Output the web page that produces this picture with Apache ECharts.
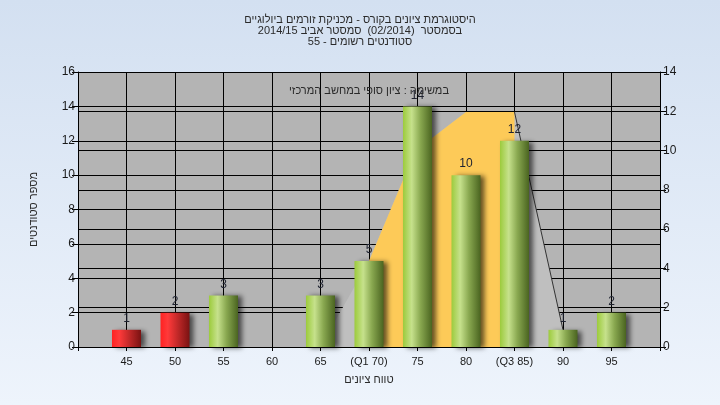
<!DOCTYPE html>
<html><head><meta charset="utf-8">
<script src="https://cdn.jsdelivr.net/npm/echarts@6/dist/echarts.min.js"></script>
<style>html,body{margin:0;padding:0;}#c{width:720px;height:405px;}</style>
</head><body><div id="c"></div>
<script>
const titleLines = ['היסטוגרמת ציונים בקורס - מכניקת זורמים ביולוגיים', 'בסמסטר  (02/2014)  סמסטר אביב 2014/15', 'סטודנטים רשומים - 55'];
const noteText = 'במשימה : ציון סופי במחשב המרכזי';
const xAxisName = 'טווח ציונים';
const yAxisName = 'מספר סטודנטים';
const gradeBins = [45, 50, 55, 60, 65, 70, 75, 80, 85, 90, 95];
const binLabels = ['45', '50', '55', '60', '65', '(Q1 70)', '75', '80', '(Q3 85)', '90', '95'];
const studentCounts = [1, 2, 3, 0, 3, 5, 14, 10, 12, 1, 2];
const passGrade = 55;
// spread outline (left-axis units)
const spreadX = [65, 70, 73.5, 76.6, 80, 85, 90, 90];
const spreadY = [0, 5, 9.7, 12.2, 13.67, 13.67, 1, 0];
const iqrX = [70, 73.5, 76.6, 80, 85];
const iqrY = [5, 9.7, 12.2, 13.67, 13.67];
const tailX = [85, 90];
const tailY = [13.67, 1];

const FONT = '"Liberation Sans", "DejaVu Sans", sans-serif';
const zip = (a, b) => a.map((v, i) => [v, b[i]]);

const greenGrad = {type: 'linear', x: 0, y: 0, x2: 1, y2: 0, colorStops: [
  {offset: 0, color: '#9ccb3c'}, {offset: 0.3, color: '#c6e18c'}, {offset: 0.6, color: '#89a850'}, {offset: 1, color: '#4a6420'}]};
const redGrad = {type: 'linear', x: 0, y: 0, x2: 1, y2: 0, colorStops: [
  {offset: 0, color: '#ff2222'}, {offset: 0.25, color: '#ff3a3a'}, {offset: 0.6, color: '#c02828'}, {offset: 1, color: '#7a1212'}]};

const chart = echarts.init(document.getElementById('c'));
chart.setOption({
  animation: false,
  backgroundColor: {type: 'linear', x: 0, y: 0, x2: 0, y2: 1, colorStops: [
    {offset: 0, color: '#d3e0f1'}, {offset: 1, color: '#eef4fc'}]},
  textStyle: {fontFamily: FONT},
  title: [
    {text: titleLines.join('\n'), left: 'center', top: 9,
     textStyle: {fontSize: 11, fontWeight: 'normal', color: '#2a2a2a', lineHeight: 11, fontFamily: FONT}},
    {text: noteText, left: 364, top: 80, textAlign: 'center',
     textStyle: {fontSize: 11, fontWeight: 'normal', color: '#2a2a2a', fontFamily: FONT}}
  ],
  grid: {left: 78, right: 60, top: 72, bottom: 58, show: true, backgroundColor: '#b4b4b4', borderWidth: 0},
  xAxis: {
    type: 'value', min: 40, max: 100, interval: 5,
    name: xAxisName, nameLocation: 'middle', nameGap: 27,
    nameTextStyle: {fontSize: 11, color: '#2a2a2a', fontFamily: FONT},
    axisLine: {lineStyle: {color: '#000', width: 1}},
    axisTick: {length: 4, lineStyle: {color: '#000'}},
    splitLine: {show: true, lineStyle: {color: '#000', width: 1}},
    axisLabel: {margin: 9, fontSize: 11, color: '#1a1a1a', fontFamily: FONT,
      formatter: v => { const i = gradeBins.indexOf(v); return i < 0 ? '' : binLabels[i]; }}
  },
  yAxis: [
    {type: 'value', min: 0, max: 16, interval: 2, position: 'left',
     name: yAxisName, nameLocation: 'middle', nameGap: 39,
     nameTextStyle: {fontSize: 11, color: '#2a2a2a', fontFamily: FONT},
     axisLine: {show: true, lineStyle: {color: '#000'}},
     axisTick: {show: true, length: 6, lineStyle: {color: '#000'}},
     splitLine: {show: true, lineStyle: {color: '#000', width: 1}},
     axisLabel: {margin: 3, fontSize: 12, color: '#1a1a1a', fontFamily: FONT}},
    {type: 'value', min: 0, max: 14, interval: 2, position: 'right',
     axisLine: {show: true, lineStyle: {color: '#000'}},
     axisTick: {show: true, length: 6, lineStyle: {color: '#000'}},
     splitLine: {show: true, lineStyle: {color: '#000', width: 1}},
     axisLabel: {margin: 3, fontSize: 12, color: '#1a1a1a', fontFamily: FONT}}
  ],
  series: [
    {type: 'line', z: 1, data: zip(spreadX, spreadY), symbol: 'none', silent: true,
     lineStyle: {width: 0, opacity: 0}, areaStyle: {color: '#bfbfbf', opacity: 1}},
    {type: 'line', z: 1, data: zip(iqrX, iqrY), symbol: 'none', silent: true,
     lineStyle: {width: 0, opacity: 0}, areaStyle: {color: '#fdca58', opacity: 1}},
    {type: 'line', z: 1, data: zip(tailX, tailY), symbol: 'none', silent: true,
     lineStyle: {width: 1, color: '#333'}},
    {type: 'bar', z: 5, data: zip(gradeBins, studentCounts), barWidth: 29,
     itemStyle: {
       color: p => (p.value[0] < passGrade ? redGrad : greenGrad),
       shadowColor: 'rgba(0,0,0,0.6)', shadowBlur: 5, shadowOffsetX: 4, shadowOffsetY: 1
     },
     label: {show: true, position: 'top', distance: 5, fontSize: 12, color: '#1e2230', fontFamily: FONT,
       formatter: p => (p.value[1] === 0 ? '' : String(p.value[1]))}}
  ]
});
</script></body></html>
